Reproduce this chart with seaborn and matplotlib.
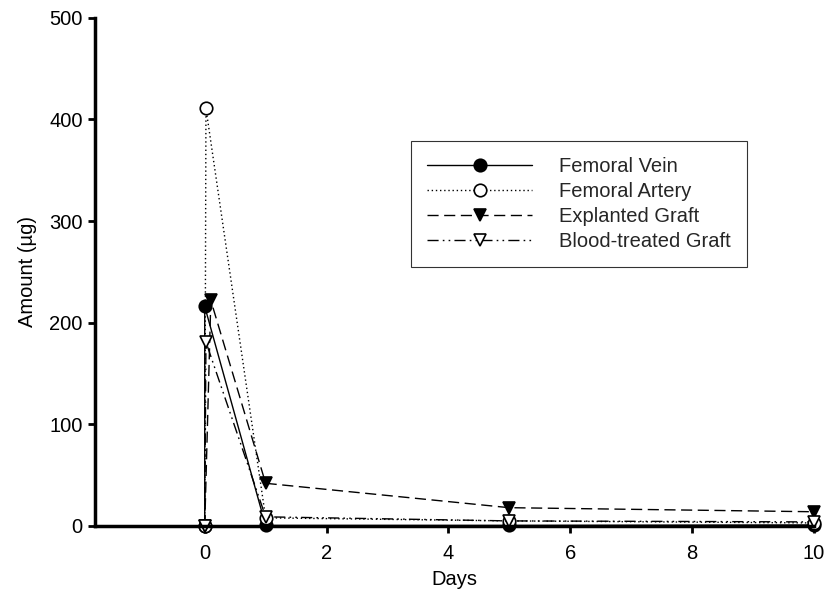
import matplotlib
matplotlib.use("Agg")
import matplotlib.pyplot as plt
import seaborn as sns
import pandas as pd
from matplotlib.lines import Line2D

sns.set_theme(style="ticks")
plt.rcParams['font.family'] = ['Liberation Sans', 'DejaVu Sans']

series_names = ["Femoral Vein", "Femoral Artery", "Explanted Graft", "Blood-treated Graft"]
days_vein = [0, 0.0, 1, 5, 10]
amount_vein = [0, 216, 0.5, 0.5, 1]
days_artery = [0, 0.02, 1, 5, 10]
amount_artery = [0, 411, 8, 5, 3]
days_explanted = [0, 0.1, 1, 5, 10]
amount_explanted = [0, 222, 42, 18, 14]
days_blood = [0, 0.02, 1, 5, 10]
amount_blood = [0, 181, 9, 5, 4]

x_ticks = [0, 2, 4, 6, 8, 10]
y_ticks = [0, 100, 200, 300, 400, 500]

styles = {
    "Femoral Vein": dict(marker="o", mfc="black", ls="-"),
    "Femoral Artery": dict(marker="o", mfc="white", ls=(0, (1, 2))),
    "Explanted Graft": dict(marker="v", mfc="black", ls=(0, (8, 4))),
    "Blood-treated Graft": dict(marker="v", mfc="white", ls=(0, (8, 3, 1.2, 3, 1.2, 3))),
}
data = {
    "Femoral Vein": (days_vein, amount_vein),
    "Femoral Artery": (days_artery, amount_artery),
    "Explanted Graft": (days_explanted, amount_explanted),
    "Blood-treated Graft": (days_blood, amount_blood),
}

FS = 14.5
fig = plt.figure(figsize=(8.27, 5.95), dpi=100)
ax = fig.add_axes([0.115, 0.116, 0.869, 0.854])

handles = []
for name in series_names:
    d, a = data[name]
    df = pd.DataFrame({"Days": d, "Amount": a})
    st = styles[name]
    sns.lineplot(data=df, x="Days", y="Amount", ax=ax, sort=False, estimator=None,
                 color="black", linewidth=1.0, linestyle=st["ls"],
                 marker=st["marker"], markersize=9, markerfacecolor=st["mfc"],
                 markeredgecolor="black", markeredgewidth=1.2, clip_on=False,
                 legend=False)
    handles.append(Line2D([], [], color="black", linewidth=1.0, linestyle=st["ls"],
                          marker=st["marker"], markersize=9, markerfacecolor=st["mfc"],
                          markeredgecolor="black", markeredgewidth=1.2))

ax.set_xlim(-1.8, 10)
ax.set_ylim(0, 500)
ax.set_xticks(x_ticks)
ax.set_yticks(y_ticks)
ax.set_xlabel("Days", fontsize=FS, color="black", labelpad=5)
ax.set_ylabel("Amount (µg)", fontsize=FS, color="black", labelpad=9)
ax.tick_params(axis="both", labelsize=FS, colors="black", width=2, length=5, direction="out")
ax.tick_params(axis="x", pad=8)
ax.tick_params(axis="y", pad=4)
for s in ["top", "right"]:
    ax.spines[s].set_visible(False)
for s in ["left", "bottom"]:
    ax.spines[s].set_linewidth(2.5)
    ax.spines[s].set_color("black")

leg = ax.legend(handles, series_names, loc="upper left", bbox_to_anchor=(0.44, 0.758),
                fontsize=FS, frameon=True, fancybox=False, handlelength=5.2,
                handletextpad=1.35, labelspacing=0.3, borderpad=0.8, borderaxespad=0)
leg.get_frame().set_edgecolor("black")
leg.get_frame().set_linewidth(0.8)

fig.savefig("out.png", dpi=100)
